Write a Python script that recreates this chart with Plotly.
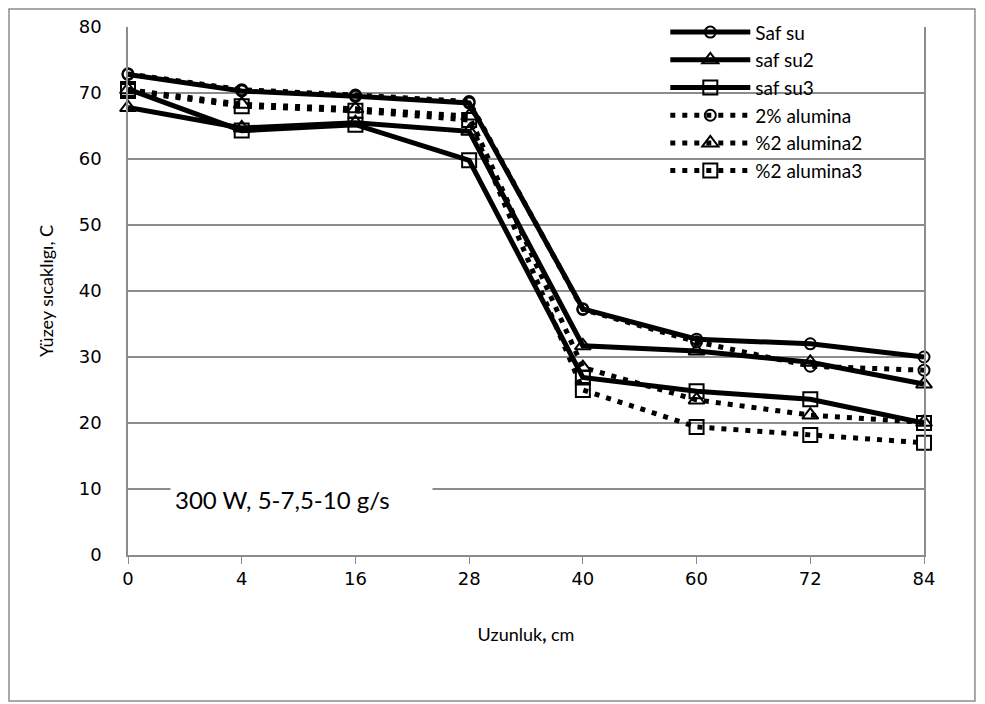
import plotly.graph_objects as go

GRID = "#8c8c8c"
BLACK = "#000000"

positions = ["0", "4", "16", "28", "40", "60", "72", "84"]

saf_su = [72.8, 70.3, 69.5, 68.5, 37.3, 32.7, 32.0, 30.0]
saf_su2 = [67.8, 64.7, 65.5, 64.2, 31.7, 30.9, 29.2, 25.9]
saf_su3 = [70.6, 64.3, 65.2, 59.8, 26.9, 24.8, 23.6, 20.0]
alumina = [72.9, 70.5, 69.7, 68.7, 37.2, 32.3, 28.6, 28.0]
alumina2 = [70.5, 68.3, 67.6, 66.5, 28.4, 23.5, 21.2, 20.1]
alumina3 = [70.3, 68.0, 67.3, 65.9, 25.0, 19.4, 18.2, 17.0]

series = [
    ("Saf su", saf_su, "solid", "circle-open", 11),
    ("saf su2", saf_su2, "solid", "triangle-up-open", 14),
    ("saf su3", saf_su3, "solid", "square-open", 14),
    ("2% alumina", alumina, "5px,7px", "circle-open", 11),
    ("%2 alumina2", alumina2, "5px,7px", "triangle-up-open", 14),
    ("%2 alumina3", alumina3, "5px,7px", "square-open", 14),
]

fig = go.Figure()
for i, (name, vals, dash, sym, size) in enumerate(series):
    fig.add_trace(
        go.Scatter(
            x=positions,
            y=vals,
            name=name,
            legendgroup=f"g{i}",
            mode="lines+markers",
            line=dict(color=BLACK, width=5, dash=dash),
            marker=dict(symbol=sym, size=size, color=BLACK, line=dict(width=2, color=BLACK)),
            cliponaxis=False,
        )
    )

fig.add_annotation(
    text="300 W, 5-7,5-10 g/s",
    xref="paper", yref="paper",
    x=0.2185, y=0.106,
    xanchor="center", yanchor="middle",
    width=253, height=52,
    align="left",
    bgcolor="white",
    borderpad=4,
    showarrow=False,
    font=dict(family="Lato", size=24, color=BLACK),
)

# outer chart frame (page adds an 8px offset, so frame sits at the figure edge)
fig.add_shape(
    type="rect", xref="paper", yref="paper",
    x0=-0.1495, x1=1.0640, y0=-0.2765, y1=1.0340,
    line=dict(color=GRID, width=1.5),
)

fig.update_layout(
    width=977,
    height=696,
    margin=dict(l=120, r=61, t=19, b=149, autoexpand=False),
    paper_bgcolor="white",
    plot_bgcolor="white",
    font=dict(family="Lato", color=BLACK),
    showlegend=True,
    legend=dict(
        x=0.675, y=1.026, xanchor="left", yanchor="top",
        bgcolor="rgba(0,0,0,0)",
        font=dict(family="Lato", size=19, color=BLACK),
        itemwidth=80,
        tracegroupgap=0,
    ),
    xaxis=dict(
        type="category",
        range=[0, 7],
        showgrid=False,
        showline=True,
        linecolor=GRID,
        linewidth=1.5,
        ticks="outside",
        ticklen=7,
        tickcolor=GRID,
        ticklabelstandoff=0,
        tickfont=dict(family="DejaVu Sans", size=18, color=BLACK),
        title=dict(text="Uzunluk<b>,</b> cm", font=dict(family="Lato", size=18, color=BLACK), standoff=40),
    ),
    yaxis=dict(
        range=[0, 80],
        dtick=10,
        showgrid=True,
        gridcolor=GRID,
        gridwidth=1.5,
        showline=True,
        mirror=True,
        linecolor=GRID,
        linewidth=1.5,
        zeroline=False,
        ticks="",
        ticklabelstandoff=21,
        tickfont=dict(family="DejaVu Sans", size=18, color=BLACK),
        title=dict(text="Yüzey sıcaklıgı, C", font=dict(family="Lato", size=18, color=BLACK), standoff=20),
    ),
)

fig.write_html("out.html")
